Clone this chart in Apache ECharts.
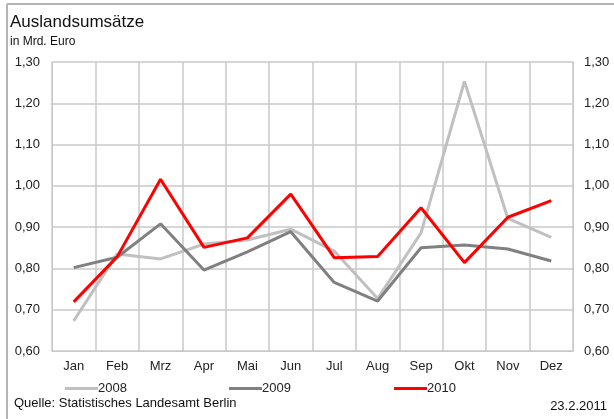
<!DOCTYPE html>
<html>
<head>
<meta charset="utf-8">
<script src="https://cdn.jsdelivr.net/npm/echarts@6/dist/echarts.min.js"></script>
<style>
  html, body { margin: 0; padding: 0; background: #fff; }
  #chart { width: 614px; height: 419px; }
</style>
</head>
<body>
<div id="chart"></div>
<script>
// Monate
const months = ['Jan', 'Feb', 'Mrz', 'Apr', 'Mai', 'Jun', 'Jul', 'Aug', 'Sep', 'Okt', 'Nov', 'Dez'];
// Auslandsumsätze in Mrd. Euro
const v2008 = [0.673, 0.835, 0.823, 0.859, 0.869, 0.895, 0.842, 0.727, 0.886, 1.253, 0.921, 0.875];
const v2009 = [0.802, 0.827, 0.908, 0.796, 0.840, 0.889, 0.766, 0.721, 0.850, 0.857, 0.847, 0.818];
const v2010 = [0.719, 0.828, 1.016, 0.851, 0.874, 0.980, 0.826, 0.829, 0.947, 0.814, 0.924, 0.964];

const font = 'Liberation Sans, Arial, sans-serif';
const gridColor = '#c8c8c8';

let myChart = echarts.init(document.getElementById('chart'));

function yAxisFor(pos) {
  return {
    type: 'value',
    position: pos,
    min: 0.6,
    max: 1.3,
    interval: 0.1,
    axisLine: { show: true, lineStyle: { color: gridColor } },
    axisTick: { show: false },
    axisLabel: {
      color: '#222',
      fontFamily: font,
      fontSize: 13,
      margin: pos === 'left' ? 12 : 11,
      formatter: v => v.toFixed(2).replace('.', ',')
    },
    splitLine: { show: pos === 'left', lineStyle: { color: gridColor, width: 1.5 } }
  };
}

function legendFor(name, left) {
  return {
    data: [name],
    left: left,
    top: 377,
    icon: 'rect',
    itemWidth: 33,
    itemHeight: 3,
    textStyle: { fontFamily: font, fontSize: 13, color: '#222', padding: [0, 0, 0, -5] }
  };
}

myChart.setOption({
  animation: false,
  title: [
    { text: 'Auslandsumsätze', left: 5, top: 9, textStyle: { fontFamily: font, fontSize: 17, fontWeight: 'normal', color: '#111' } },
    { text: 'in Mrd. Euro', left: 5, top: 31, textStyle: { fontFamily: font, fontSize: 12, fontWeight: 'normal', color: '#111' } }
  ],
  legend: [legendFor('2008', 60), legendFor('2009', 224), legendFor('2010', 389)],
  grid: { left: 52, right: 41, top: 62, bottom: 68 },
  xAxis: {
    type: 'category',
    data: months,
    boundaryGap: true,
    axisLine: { show: true, lineStyle: { color: gridColor } },
    axisTick: { show: false },
    axisLabel: { color: '#222', fontFamily: font, fontSize: 13, margin: 9 },
    splitLine: { show: true, lineStyle: { color: gridColor, width: 1.5 } }
  },
  yAxis: [yAxisFor('left'), yAxisFor('right')],
  series: [
    { name: '2008', type: 'line', data: v2008, color: '#c0c0c0', symbol: 'none', lineStyle: { width: 3 } },
    { name: '2009', type: 'line', data: v2009, color: '#808080', symbol: 'none', lineStyle: { width: 3 } },
    { name: '2010', type: 'line', data: v2010, color: '#ff0000', symbol: 'none', lineStyle: { width: 3 } }
  ],
  graphic: [
    { type: 'line', shape: { x1: 7, y1: 4, x2: 7, y2: 419 }, style: { stroke: '#b4b4b4', lineWidth: 2 } },
    { type: 'line', shape: { x1: 7, y1: 4, x2: 614, y2: 4 }, style: { stroke: '#b4b4b4', lineWidth: 2 } },
    { type: 'text', left: 14, top: 397, style: { text: 'Quelle: Statistisches Landesamt Berlin', fontFamily: font, fontSize: 13, fill: '#111' } },
    { type: 'text', right: 7, top: 400, style: { text: '23.2.2011', fontFamily: font, fontSize: 13, fill: '#111' } }
  ]
});
</script>
</body>
</html>
